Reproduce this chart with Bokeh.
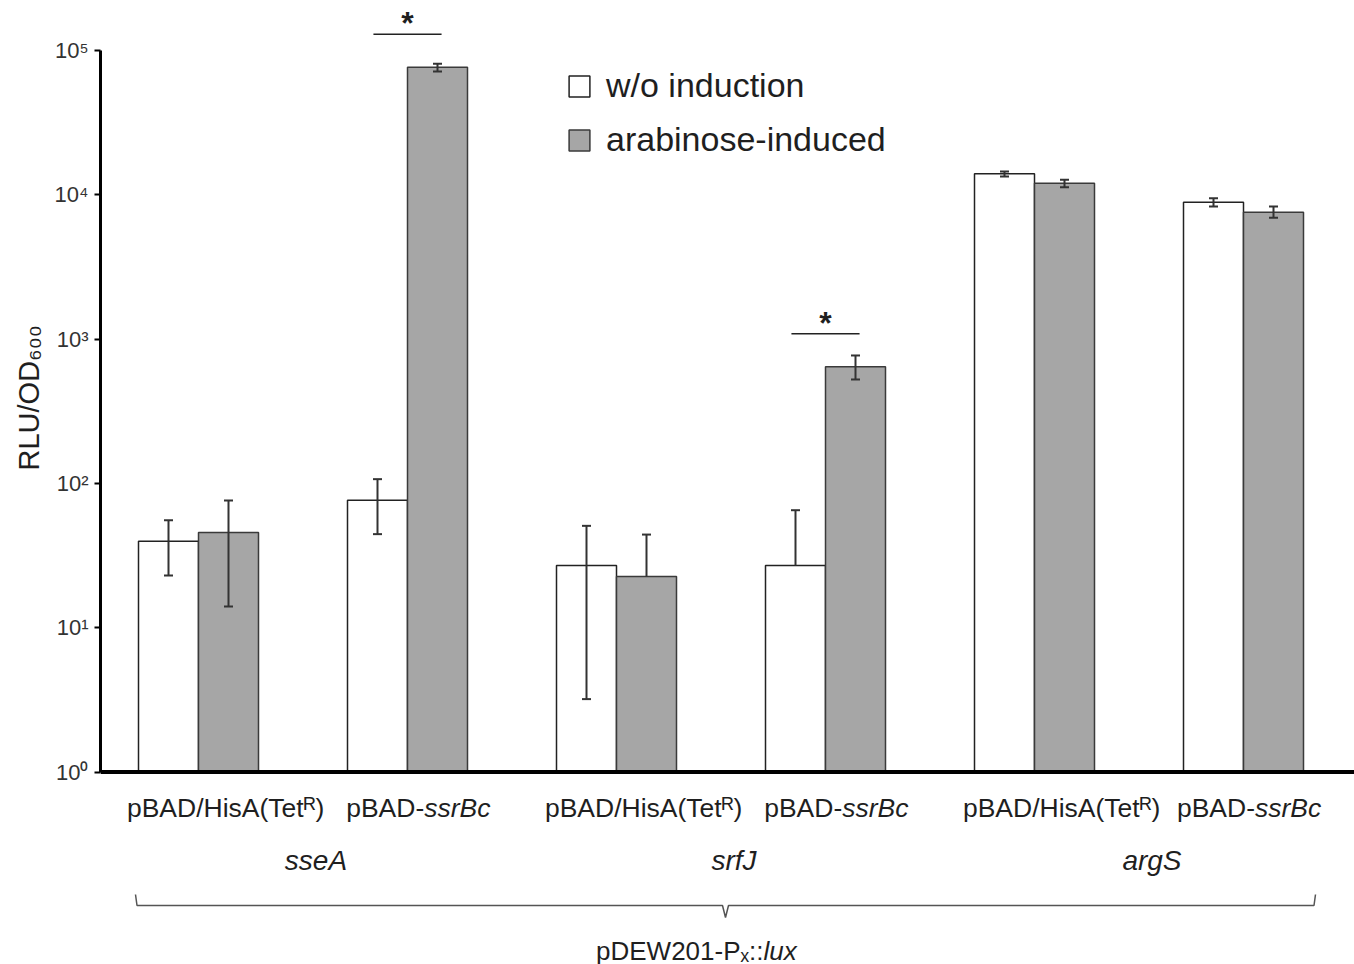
import numpy as np
from bokeh.plotting import figure
from bokeh.models import (ColumnDataSource, FixedTicker, Span, Whisker, TeeHead,
                          Legend, LegendItem, Title)
from bokeh.embed import file_html
from bokeh.resources import INLINE
from bokeh.core.properties import value

# ---------------- data ----------------
reporters = ["sseA", "srfJ", "argS"]
plasmid_ctrl = "pBAD/HisA(Tet\u1d3f)"
plasmid_exp_a = "pBAD-"
plasmid_exp_b = "ssrBc"
series = ["w/o induction", "arabinose-induced"]
# six bar pairs: sseA-ctrl, sseA-ssrBc, srfJ-ctrl, srfJ-ssrBc, argS-ctrl, argS-ssrBc
uninduced = [39.7, 76.5, 27.0, 27.0, 13990, 8890]
uninduced_lo = [23.0, 44.5, 3.2, 27.0, 13400, 8300]
uninduced_hi = [55.6, 107.0, 50.8, 65.2, 14500, 9470]
induced = [45.7, 76600, 22.6, 643, 12030, 7570]
induced_lo = [14.0, 71600, 22.6, 525, 11300, 6930]
induced_hi = [76.0, 80900, 44.2, 770, 12700, 8300]
significant = [1, 3]
y_ticks = [1, 10, 100, 1000, 10000, 100000]
sup = "\u2070\u00b9\u00b2\u00b3\u2074\u2075"

FONT = "Liberation Sans"
TXT = "#1f1f1f"

# ---------------- geometry helpers (styles) ----------------
PX_X = 209.0          # pixels per group
X0_PAGE = 198.0       # page x of group 0
Y1_PAGE = 771.5       # page y of value 1
DEC = 144.3           # pixels per decade
W, H = 1354, 964
LEFT = 100

def ypage(py):
    return 10 ** ((Y1_PAGE - py) / DEC)

def xpage(px):
    return (px - X0_PAGE) / PX_X

x_start = xpage(LEFT)
x_end = xpage(W)
y_start = ypage(H)
y_end = ypage(0)

n = len(uninduced)
bw = 60 / PX_X
xs = np.arange(n, dtype=float)

p = figure(width=W, height=H, x_range=(x_start, x_end), y_range=(y_start, y_end),
           y_axis_type="log", x_axis_location=None, output_backend="svg",
           toolbar_location=None, min_border_left=LEFT, min_border_right=0,
           min_border_top=0, min_border_bottom=0)
p.grid.visible = False
p.outline_line_color = None
p.background_fill_color = "white"
p.border_fill_color = "white"

src_u = ColumnDataSource(dict(x=xs - bw / 2, top=uninduced, lo=uninduced_lo, hi=uninduced_hi))
src_i = ColumnDataSource(dict(x=xs + bw / 2, top=induced, lo=induced_lo, hi=induced_hi))

r_u = p.vbar(x="x", top="top", bottom=1, width=bw, source=src_u,
             fill_color="white", line_color="#222222", line_width=1.5)
r_i = p.vbar(x="x", top="top", bottom=1, width=bw, source=src_i,
             fill_color="#a6a6a6", line_color="#3a3a3a", line_width=1.5)

# error bars
for xv, tv, lv, hv in [(src_u.data["x"], uninduced, uninduced_lo, uninduced_hi),
                       (src_i.data["x"], induced, induced_lo, induced_hi)]:
    up = ColumnDataSource(dict(x=list(xv), top=tv, hi=hv))
    p.add_layout(Whisker(source=up, base="x", lower="top", upper="hi", level="overlay",
                         line_color="#333333", line_width=2,
                         upper_head=TeeHead(size=9, line_width=2, line_color="#333333"),
                         lower_head=None))
    idx = [k for k in range(n) if lv[k] < tv[k]]
    dn = ColumnDataSource(dict(x=[xv[k] for k in idx], top=[tv[k] for k in idx],
                               lo=[lv[k] for k in idx]))
    p.add_layout(Whisker(source=dn, base="x", lower="lo", upper="top", level="overlay",
                         line_color="#333333", line_width=2,
                         lower_head=TeeHead(size=9, line_width=2, line_color="#333333"),
                         upper_head=None))

# baseline
p.add_layout(Span(location=1, dimension="width", line_color="black", line_width=4))

# y axis
ax = p.yaxis[0]
ax.ticker = FixedTicker(ticks=y_ticks, minor_ticks=[])
ax.bounds = (1, 100000)
ax.axis_line_width = 3
ax.axis_line_color = "black"
ax.major_tick_in = 0
ax.major_tick_out = 6
ax.major_tick_line_width = 2
ax.minor_tick_line_color = None
ax.major_label_overrides = {t: "10" + sup[i] for i, t in enumerate(y_ticks)}
ax.major_label_text_font = FONT
ax.major_label_text_font_size = "22px"
ax.major_label_text_color = "#333333"
ax.major_label_standoff = 6

# y axis title (side panel, positioned along the axis)
p.add_layout(Title(text="RLU/OD\u2086\u2080\u2080", align="left", offset=494,
                   text_font=FONT, text_font_size="29px", text_font_style="normal",
                   text_color=TXT, standoff=14), "left")

# significance bars
sig_x = [float(g) for g in significant]
sig_y = [induced[g] * 10 ** 0.228 for g in significant]
half = 0.163
p.segment(x0=[x - half for x in sig_x], x1=[x + half for x in sig_x], y0=sig_y, y1=sig_y,
          line_color="#222222", line_width=1.5)
p.text(x=sig_x, y=[y * 10 ** (11 / DEC) for y in sig_y], text=["*"] * len(sig_x),
       text_font=value(FONT), text_font_style="bold", text_font_size="32px",
       text_align="center", text_baseline="alphabetic", text_color=TXT)

# category labels
ctrl_x = [g + 0.13 for g in range(0, n, 2)]
exp_off = [0.08, 0.08, 0.055]
exp_x = [g + exp_off[k] for k, g in enumerate(range(1, n, 2))]
lab_y = ypage(807)
LSZ = "26.5px"
p.text(x=ctrl_x, y=[lab_y] * len(ctrl_x), text=[plasmid_ctrl] * len(ctrl_x),
       text_font=value(FONT), text_font_size=LSZ, text_align="center",
       text_baseline="alphabetic", text_color=TXT)
p.text(x=exp_x, y=[lab_y] * len(exp_x), text=[plasmid_exp_a] * len(exp_x),
       text_font=value(FONT), text_font_size=LSZ, text_align="right",
       text_baseline="alphabetic", text_color=TXT)
p.text(x=exp_x, y=[lab_y] * len(exp_x), text=[plasmid_exp_b] * len(exp_x),
       text_font=value(FONT), text_font_size=LSZ, text_font_style="italic",
       text_align="left", text_baseline="alphabetic", text_color=TXT)

# reporter labels
rep_x = [2 * k + 0.5 + 0.062 for k in range(len(reporters))]
p.text(x=rep_x, y=[ypage(860)] * len(rep_x), text=reporters,
       text_font=value(FONT), text_font_size="28px", text_font_style="italic",
       text_align="center", text_baseline="alphabetic", text_color=TXT)

# brace
bx0 = xpage(135)
bx1 = xpage(1315)
bm = (bx0 + bx1) / 2
d = 3 / PX_X
p.line(x=[bx0, bx0 + d / 2, bm - d, bm, bm + d, bx1 - d / 2, bx1],
       y=[ypage(894), ypage(905), ypage(905), ypage(917), ypage(905), ypage(905), ypage(894)],
       line_color="#555555", line_width=1.5)

# bottom label
jx = xpage(763)
p.text(x=[jx], y=[ypage(950)], text=["pDEW201-P\u2093::"], text_font=value(FONT),
       text_font_size="26px", text_align="right", text_baseline="alphabetic", text_color=TXT)
p.text(x=[jx], y=[ypage(950)], text=["lux"], text_font=value(FONT),
       text_font_size="26px", text_font_style="italic", text_align="left",
       text_baseline="alphabetic", text_color=TXT)

# legend
legend = Legend(items=[LegendItem(label=series[0], renderers=[r_u]),
                       LegendItem(label=series[1], renderers=[r_i])],
                location=(466, 805), orientation="vertical",
                glyph_width=26, glyph_height=26, label_standoff=14,
                label_text_font=FONT, label_text_font_size="34px",
                label_text_color=TXT, spacing=15, padding=0, margin=0,
                border_line_color=None, background_fill_color=None)
p.add_layout(legend, "center")

open("out.html", "w").write(file_html(p, INLINE))
